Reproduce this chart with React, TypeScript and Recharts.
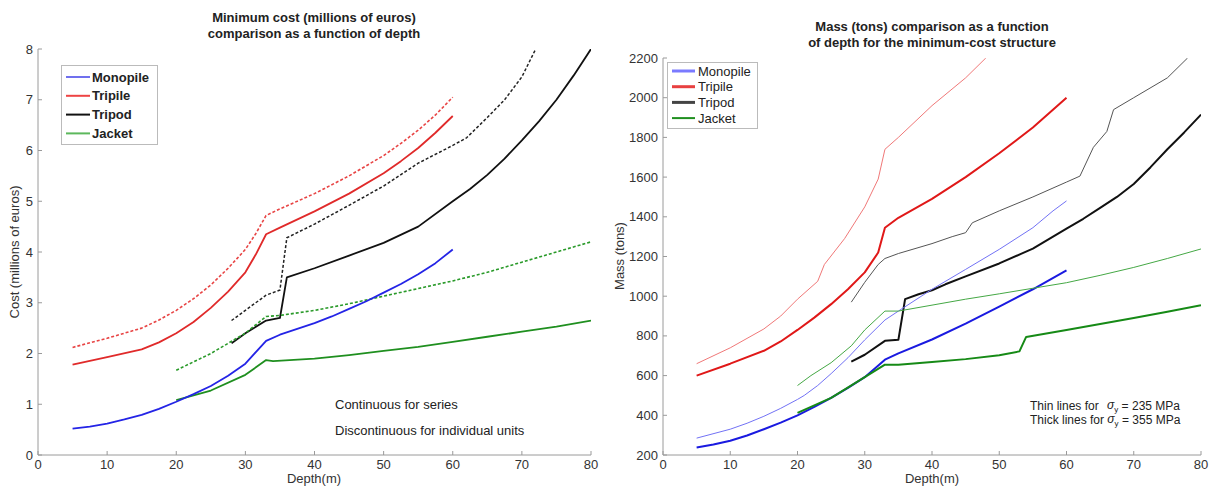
import React from 'react';
import { LineChart, Line, XAxis, YAxis } from 'recharts';

// ---------- shared ticks ----------
const depthTicks = [0, 10, 20, 30, 40, 50, 60, 70, 80];
const costTicks = [0, 1, 2, 3, 4, 5, 6, 7, 8];
const massTicks = [200, 400, 600, 800, 1000, 1200, 1400, 1600, 1800, 2000, 2200];

// ---------- left chart: cost (millions of euros) ----------
const monopileCostDepth = [5, 7.5, 10, 12.5, 15, 17.5, 20, 22.5, 25, 27.5, 30, 33, 35, 40, 42.5, 45, 47.5, 50, 52.5, 55, 57.5, 60];
const monopileCost = [0.52, 0.56, 0.62, 0.7, 0.79, 0.91, 1.05, 1.2, 1.36, 1.56, 1.8, 2.25, 2.37, 2.6, 2.73, 2.88, 3.03, 3.2, 3.37, 3.56, 3.78, 4.05];

const tripileCostDepth = [5, 10, 15, 17.5, 20, 22.5, 25, 27.5, 30, 31.5, 33, 35, 40, 45, 50, 52.5, 55, 57.5, 60];
const tripileCost = [1.78, 1.93, 2.08, 2.22, 2.4, 2.62, 2.9, 3.22, 3.6, 3.95, 4.35, 4.48, 4.8, 5.15, 5.55, 5.79, 6.05, 6.35, 6.68];
const tripileUnitCost = [2.12, 2.3, 2.5, 2.66, 2.85, 3.08, 3.35, 3.68, 4.05, 4.36, 4.72, 4.85, 5.15, 5.5, 5.9, 6.14, 6.4, 6.7, 7.05];

const tripodCostDepth = [28, 30, 33, 35, 36, 40, 45, 50, 55, 60, 62.5, 65, 67.5, 70, 72.5, 75, 77.5, 80];
const tripodCost = [2.2, 2.4, 2.65, 2.7, 3.5, 3.68, 3.93, 4.18, 4.5, 5.0, 5.24, 5.52, 5.84, 6.2, 6.58, 7.0, 7.48, 8.0];
const tripodUnitCostDepth = [28, 30, 33, 35, 36, 40, 45, 50, 55, 60, 62, 65, 67.5, 70, 72];
const tripodUnitCost = [2.65, 2.85, 3.15, 3.25, 4.28, 4.55, 4.92, 5.3, 5.75, 6.1, 6.25, 6.65, 7.0, 7.45, 8.0];

const jacketCostDepth = [20, 25, 30, 33, 34, 40, 45, 50, 55, 60, 65, 70, 75, 80];
const jacketCost = [1.08, 1.27, 1.58, 1.87, 1.85, 1.9, 1.97, 2.05, 2.13, 2.23, 2.33, 2.43, 2.53, 2.65];
const jacketUnitCostDepth = [20, 25, 30, 33, 35, 40, 45, 50, 55, 60, 65, 70, 75, 80];
const jacketUnitCost = [1.67, 2.0, 2.4, 2.73, 2.75, 2.85, 2.98, 3.13, 3.28, 3.43, 3.6, 3.8, 4.0, 4.2];

// ---------- right chart: mass (tons) ----------
const monopileMassDepth = [5, 7.5, 10, 12.5, 15, 17.5, 20, 22.5, 25, 27.5, 30, 33, 35, 40, 45, 50, 55, 60];
const monopileMass355 = [238, 253, 272, 298, 330, 363, 400, 442, 488, 538, 592, 680, 712, 782, 862, 948, 1035, 1130];
const monopileMass235Depth = [5, 10, 12.5, 15, 17.5, 20, 21, 23, 25, 27.5, 30, 33, 35, 40, 45, 50, 55, 58, 60];
const monopileMass235 = [285, 330, 360, 395, 435, 480, 500, 550, 610, 690, 780, 880, 925, 1035, 1135, 1236, 1345, 1430, 1480];

const tripileMassDepth = [5, 10, 15, 17.5, 20, 22.5, 25, 27.5, 30, 32, 33, 35, 40, 45, 50, 55, 60];
const tripileMass355 = [600, 660, 725, 772, 830, 892, 960, 1035, 1120, 1220, 1345, 1395, 1490, 1600, 1720, 1850, 2000];
const tripileMass235Depth = [5, 10, 15, 17.5, 20, 23, 24, 27, 30, 32, 33, 35, 40, 45, 48];
const tripileMass235 = [660, 740, 835, 900, 985, 1075, 1160, 1290, 1450, 1590, 1740, 1800, 1960, 2100, 2200];

const tripodMassDepth = [28, 30, 33, 35, 36, 38, 40, 42, 45, 50, 55, 60, 62.5, 65, 67.5, 70, 72.5, 75, 77.5, 80];
const tripodMass355 = [670, 705, 775, 780, 985, 1010, 1030, 1060, 1100, 1165, 1240, 1340, 1390, 1445, 1500, 1565, 1650, 1740, 1825, 1915];
const tripodMass235Depth = [28, 30, 32, 33, 35, 40, 43, 45, 46, 50, 55, 60, 62, 64, 66, 67, 70, 75, 78];
const tripodMass235 = [970, 1070, 1160, 1190, 1215, 1265, 1300, 1320, 1370, 1430, 1500, 1575, 1605, 1750, 1830, 1940, 2000, 2100, 2200];

const jacketMassDepth = [20, 25, 30, 33, 35, 40, 45, 50, 53, 54, 60, 65, 70, 75, 80];
const jacketMass355 = [412, 488, 592, 655, 655, 668, 683, 703, 722, 795, 830, 860, 890, 922, 955];
const jacketMass235Depth = [20, 22, 25, 28, 30, 33, 35, 40, 45, 50, 55, 60, 65, 70, 75, 80];
const jacketMass235 = [550, 600, 665, 750, 830, 925, 925, 955, 985, 1012, 1040, 1068, 1105, 1145, 1190, 1238];

const legendNames = ['Monopile', 'Tripile', 'Tripod', 'Jacket'];

// ---------- helpers ----------
const toPoints = (xs: number[], ys: number[]) => xs.map((d, i) => ({ depth: d, value: ys[i] }));

type Series = { id: string; pts: { depth: number; value: number }[]; color: string; width: number; dash?: string };

const costSeries: Series[] = [
  { id: 'tripU', pts: toPoints(tripileCostDepth, tripileUnitCost), color: '#e84444', width: 1.6, dash: '3 2' },
  { id: 'trip', pts: toPoints(tripileCostDepth, tripileCost), color: '#e02a2a', width: 1.8 },
  { id: 'tpdU', pts: toPoints(tripodUnitCostDepth, tripodUnitCost), color: '#222', width: 1.5, dash: '3 2' },
  { id: 'tpd', pts: toPoints(tripodCostDepth, tripodCost), color: '#111', width: 1.8 },
  { id: 'jacU', pts: toPoints(jacketUnitCostDepth, jacketUnitCost), color: '#2a9a2a', width: 1.6, dash: '3 2' },
  { id: 'jac', pts: toPoints(jacketCostDepth, jacketCost), color: '#1f8f1f', width: 1.8 },
  { id: 'mono', pts: toPoints(monopileCostDepth, monopileCost), color: '#2424e6', width: 1.8 },
];

const massSeries: Series[] = [
  { id: 'trip235', pts: toPoints(tripileMass235Depth, tripileMass235), color: '#f07878', width: 1 },
  { id: 'trip355', pts: toPoints(tripileMassDepth, tripileMass355), color: '#e01818', width: 2 },
  { id: 'tpd235', pts: toPoints(tripodMass235Depth, tripodMass235), color: '#555', width: 1 },
  { id: 'tpd355', pts: toPoints(tripodMassDepth, tripodMass355), color: '#111', width: 2 },
  { id: 'mono235', pts: toPoints(monopileMass235Depth, monopileMass235), color: '#7272f5', width: 1 },
  { id: 'mono355', pts: toPoints(monopileMassDepth, monopileMass355), color: '#1a1ae0', width: 2 },
  { id: 'jac235', pts: toPoints(jacketMass235Depth, jacketMass235), color: '#45a845', width: 1 },
  { id: 'jac355', pts: toPoints(jacketMassDepth, jacketMass355), color: '#168a16', width: 2 },
];

const leftLegendColors = ['#7070ee', '#ee4444', '#111', '#5cb85c'];
const rightLegendColors = ['#7a7aff', '#e84040', '#444', '#1f8f1f'];

const FONT = '"Liberation Sans", Arial, sans-serif';
const AXIS = '#9a9a9a';
const TXT = '#333';
const M = 4;

const XTick = (props: any) => {
  const { x, y, payload } = props;
  return (
    <g>
      <line x1={x} x2={x} y1={y - M} y2={y - M - 4} stroke={AXIS} />
      <text x={x} y={y} dy="0.8em" textAnchor="middle" fontSize={13} fill={TXT} fontFamily={FONT}>
        {payload.value}
      </text>
    </g>
  );
};

const YTick = (props: any) => {
  const { x, y, payload } = props;
  return (
    <g>
      <line x1={x + M} x2={x + M + 4} y1={y} y2={y} stroke={AXIS} />
      <text x={x - 1} y={y} dy="0.35em" textAnchor="end" fontSize={13} fill={TXT} fontFamily={FONT}>
        {payload.value}
      </text>
    </g>
  );
};

const renderLines = (series: Series[]) =>
  series.map((s) => (
    <Line
      key={s.id}
      data={s.pts}
      dataKey="value"
      type="linear"
      stroke={s.color}
      strokeWidth={s.width}
      strokeDasharray={s.dash}
      strokeLinejoin="round"
      dot={false}
      activeDot={false}
      isAnimationActive={false}
    />
  ));

export default function App() {
  return (
    <div style={{ position: 'absolute', left: 0, top: 0, width: 1212, height: 490, background: '#fff' }}>
      <div style={{ position: 'absolute', left: 0, top: 0 }}>
        <LineChart width={600} height={490} margin={{ top: 49, right: 9, left: 8, bottom: 5 }}>
          <XAxis
            dataKey="depth"
            type="number"
            domain={[0, 80]}
            ticks={depthTicks}
            height={30}
            tickSize={0}
            tickMargin={M}
            tickLine={false}
            axisLine={{ stroke: AXIS }}
            tick={<XTick />}
            allowDataOverflow
          />
          <YAxis
            type="number"
            domain={[0, 8]}
            ticks={costTicks}
            width={30}
            tickSize={0}
            tickMargin={M}
            tickLine={false}
            axisLine={{ stroke: AXIS }}
            tick={<YTick />}
            allowDataOverflow
          />
          {renderLines(costSeries)}
        </LineChart>
      </div>
      <div style={{ position: 'absolute', left: 600, top: 0 }}>
        <LineChart width={612} height={490} margin={{ top: 58, right: 11, left: 23, bottom: 5 }}>
          <XAxis
            dataKey="depth"
            type="number"
            domain={[0, 80]}
            ticks={depthTicks}
            height={30}
            tickSize={0}
            tickMargin={M}
            tickLine={false}
            axisLine={{ stroke: AXIS }}
            tick={<XTick />}
            allowDataOverflow
          />
          <YAxis
            type="number"
            domain={[200, 2200]}
            ticks={massTicks}
            width={40}
            tickSize={0}
            tickMargin={M}
            tickLine={false}
            axisLine={{ stroke: AXIS }}
            tick={<YTick />}
            allowDataOverflow
          />
          {renderLines(massSeries)}
        </LineChart>
      </div>

      <svg
        width={1212}
        height={490}
        style={{ position: 'absolute', left: 0, top: 0, pointerEvents: 'none' }}
        fontFamily={FONT}
      >
        {/* titles */}
        <text x={314} y={22} textAnchor="middle" fontSize={13} fontWeight="bold" fill="#222">
          Minimum cost (millions of euros)
        </text>
        <text x={314} y={38} textAnchor="middle" fontSize={13} fontWeight="bold" fill="#222">
          comparison as a function of depth
        </text>
        <text x={932} y={31} textAnchor="middle" fontSize={13} fontWeight="bold" fill="#222">
          Mass (tons) comparison as a function
        </text>
        <text x={932} y={47} textAnchor="middle" fontSize={13} fontWeight="bold" fill="#222">
          of depth for the minimum-cost structure
        </text>

        {/* axis labels */}
        <text x={314} y={483} textAnchor="middle" fontSize={13} fill={TXT}>Depth(m)</text>
        <text x={932} y={483} textAnchor="middle" fontSize={13} fill={TXT}>Depth(m)</text>
        <text
          x={19}
          y={252}
          textAnchor="middle"
          fontSize={13}
          fill={TXT}
          transform="rotate(-90 19 252)"
        >
          Cost (millions of euros)
        </text>
        <text
          x={624}
          y={256}
          textAnchor="middle"
          fontSize={13}
          fill={TXT}
          transform="rotate(-90 624 256)"
        >
          Mass (tons)
        </text>

        {/* left legend */}
        <rect x={61.5} y={65.5} width={96} height={79} fill="#fff" stroke="#bbb" />
        {legendNames.map((n, i) => (
          <g key={'ll' + n}>
            <line x1={66} x2={90} y1={77 + i * 18.8} y2={77 + i * 18.8} stroke={leftLegendColors[i]} strokeWidth={2} />
            <text x={92} y={77 + i * 18.8} dy="0.35em" fontSize={13} fontWeight="bold" fill="#222">
              {n}
            </text>
          </g>
        ))}

        {/* right legend */}
        <rect x={667.5} y={62.5} width={90} height={66} fill="#fff" stroke="#bbb" />
        {legendNames.map((n, i) => (
          <g key={'rl' + n}>
            <line x1={672} x2={695} y1={71 + i * 15.7} y2={71 + i * 15.7} stroke={rightLegendColors[i]} strokeWidth={i === 3 ? 2 : 3} />
            <text x={698} y={71 + i * 15.7} dy="0.35em" fontSize={13} fill="#222">
              {n}
            </text>
          </g>
        ))}

        {/* left annotation */}
        <text x={335} y={409} fontSize={13} fill="#222">Continuous for series</text>
        <text x={335} y={435} fontSize={13} fill="#222">Discontinuous for individual units</text>

        {/* right annotation */}
        <text x={1030} y={410} fontSize={12} fill="#222">
          {'Thin lines for '}
          <tspan dx={5} fontStyle="italic" fontSize={12} dy={-1}>σ</tspan>
          <tspan fontSize={8} dy={3}>y</tspan>
          <tspan dy={-2}>{' = 235 MPa'}</tspan>
        </text>
        <text x={1030} y={424} fontSize={12} fill="#222">
          {'Thick lines for '}
          <tspan fontStyle="italic" fontSize={12} dy={-1}>σ</tspan>
          <tspan fontSize={8} dy={3}>y</tspan>
          <tspan dy={-2}>{' = 355 MPa'}</tspan>
        </text>
      </svg>
    </div>
  );
}
